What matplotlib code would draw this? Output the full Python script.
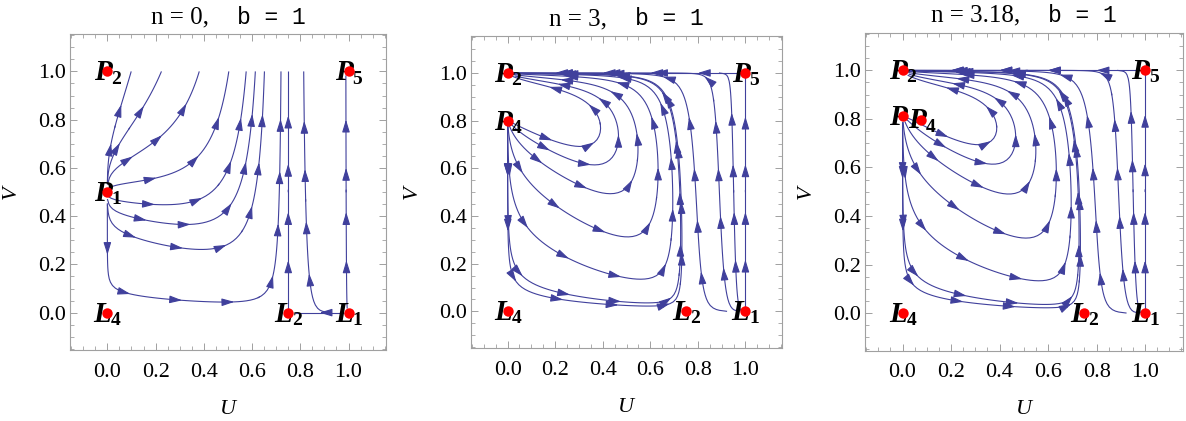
import numpy as np
import matplotlib
matplotlib.use('Agg')
import matplotlib.pyplot as plt
from matplotlib.ticker import MultipleLocator
from matplotlib.patches import FancyArrowPatch

plt.rcParams['font.family'] = ['Liberation Serif', 'DejaVu Serif']

# ---------------- data ----------------
n_values = [0, 3, 3.18]
b_values = [1, 1, 1]

# coefficients of the planar vector field drawn in each panel
a_coef = [2.5, 2.5, 2.5]      # speed of U
v_star = [0.5, 0.8, 0.81]     # equilibrium on the V axis (P1 / P4 / P3)
k_coef = [0.0, 0.14, 0.148]   # coupling V -> U
c_coef = [4.0, 3.8, 3.8]      # coupling U -> V
u_l2 = 0.75                   # position of L2

# fixed points (label letter, label index, U, V) per panel
pt_letter = [["P", "P", "P", "L", "L", "L"],
             ["P", "P", "P", "L", "L", "L"],
             ["P", "P", "P", "P", "L", "L", "L"]]
pt_index = [["2", "5", "1", "4", "2", "1"],
            ["2", "5", "4", "4", "2", "1"],
            ["2", "5", "", "4", "4", "2", "1"]]
pt_u = [[0.0, 1.0, 0.0, 0.0, 0.75, 1.0],
        [0.0, 1.0, 0.0, 0.0, 0.75, 1.0],
        [0.0, 1.0, 0.0, 0.078, 0.0, 0.75, 1.0]]
pt_v = [[1.0, 1.0, 0.5, 0.0, 0.0, 0.0],
        [1.0, 1.0, 0.8, 0.0, 0.0, 0.0],
        [1.0, 1.0, 0.81, 0.797, 0.0, 0.0, 0.0]]

# seed points of the streamlines per panel
seed_u = [[0.096, 0.22, 0.378, 0.502, 0.613, 0.33, 0.38, 0.26, 0.75, 0.826, 0.99, 0.88],
          [0.5, 1.0, 0.951, 0.35, 0.35, 0.35, 0.35, 0.35, 0.35, 0.727, 0.797, 0.9],
          [0.5, 1.0, 0.951, 0.35, 0.35, 0.35, 0.35, 0.35, 0.35, 0.727, 0.797, 0.9]]
seed_v = [[0.99, 0.99, 0.99, 0.99, 0.99, 0.455, 0.262, 0.055, 0.5, 0.345, 0.5, 0.0],
          [1.0, 0.5, 0.483, 0.70, 0.615, 0.51, 0.357, 0.182, 0.035, 0.4, 0.4, 0.3],
          [1.0, 0.5, 0.483, 0.70, 0.615, 0.51, 0.357, 0.182, 0.035, 0.4, 0.4, 0.3]]

# ---------------- style ----------------
LINE_C = '#40409c'
SPINE_C = '#a0a0a0'
ARROW_STYLE = '-|>,head_length=0.75,head_width=0.23'
ARROW_GAP_PX = 58.0
TITLE_GAP_PX = 28.0
axes_pos = [[0.0590, 0.1686, 0.2664, 0.7506],
            [0.3969, 0.1727, 0.2627, 0.7418],
            [0.7293, 0.1670, 0.2679, 0.7553]]

fig = plt.figure(figsize=(11.86, 4.21), dpi=100)

grid = np.linspace(0.0, 1.0, 201)
UU, VV = np.meshgrid(grid, grid)


def add_arrows(ax, segs):
    if len(segs) == 0:
        return
    pts = np.vstack([segs[0][:1]] + [s[1:] for s in segs])
    d = np.hypot(*np.diff(pts, axis=0).T)
    s = np.concatenate([[0], np.cumsum(d)])
    total = s[-1]
    n_arr = max(1, int(round(total * 241 / ARROW_GAP_PX)))
    for j in range(1, n_arr + 1):
        target = total * j / (n_arr + 1)
        idx = int(np.searchsorted(s, target))
        idx = min(max(idx, 1), len(pts) - 1)
        tail = pts[idx - 1]
        tip = pts[idx]
        if np.allclose(tail, tip):
            continue
        ap = FancyArrowPatch(tuple(tail), tuple(tip), arrowstyle=ARROW_STYLE,
                             mutation_scale=10, color=LINE_C, lw=0.8,
                             shrinkA=0, shrinkB=0, zorder=3)
        ax.add_patch(ap)


title_parts = []
for i in range(3):
    ax = fig.add_axes(axes_pos[i])
    a, vs, k, c = a_coef[i], v_star[i], k_coef[i], c_coef[i]
    FU = a * UU * (1 - UU) * ((u_l2 - UU) * (1 - VV) - k * VV ** 2)
    FV = VV * (1 - VV) * (VV - vs + c * UU ** 3)
    for pu, pv in zip(pt_u[i], pt_v[i]):
        m = np.hypot(UU - pu, VV - pv) < 0.012
        FU[m] = np.nan
        FV[m] = np.nan

    for su, sv in zip(seed_u[i], seed_v[i]):
        sp = ax.streamplot(grid, grid, FU, FV, start_points=[[su, sv]],
                           broken_streamlines=False, integration_direction='both',
                           density=2, color=LINE_C, linewidth=0.8,
                           arrowstyle='-', arrowsize=0.01)
        add_arrows(ax, sp.lines.get_segments())

    for let, idx, pu, pv in zip(pt_letter[i], pt_index[i], pt_u[i], pt_v[i]):
        ax.annotate(let, (pu, pv), xytext=(-3.5, -1.0),
                    textcoords='offset points', ha='center', va='center',
                    fontsize=21, fontweight='bold', style='italic', zorder=5)
        if idx:
            ax.annotate(idx, (pu, pv), xytext=(6.3, -5.5),
                        textcoords='offset points', ha='center', va='center',
                        fontsize=14, fontweight='bold', zorder=5)
    ax.plot(pt_u[i], pt_v[i], 'o', color='#ff0000', ms=7.5, mec='none',
            zorder=6, clip_on=False)

    ax.set_xlim(-0.155, 1.155)
    ax.set_ylim(-0.155, 1.155)
    ax.set_xticks(np.arange(0, 1.01, 0.2))
    ax.set_yticks(np.arange(0, 1.01, 0.2))
    ax.set_xticklabels(['%.1f' % t for t in np.arange(0, 1.01, 0.2)])
    ax.set_yticklabels(['%.1f' % t for t in np.arange(0, 1.01, 0.2)])
    ax.xaxis.set_minor_locator(MultipleLocator(0.05))
    ax.yaxis.set_minor_locator(MultipleLocator(0.05))
    ax.tick_params(which='both', direction='in', top=True, right=True,
                   color=SPINE_C, labelsize=16)
    ax.tick_params(which='major', length=5, width=0.7)
    ax.tick_params(which='minor', length=3, width=0.6)
    ax.tick_params(axis='x', pad=9)
    ax.tick_params(axis='y', pad=3)
    for sp_ in ax.spines.values():
        sp_.set_color(SPINE_C)
        sp_.set_linewidth(0.8)
    ax.set_xlabel('U', style='italic', fontsize=16, labelpad=13)
    ax.set_ylabel('V', style='italic', fontsize=16, labelpad=12)

    t1 = ax.annotate('n = %g,' % n_values[i], (0.5, 1.0), xycoords='axes fraction',
                     xytext=(0, 17), textcoords='offset pixels',
                     ha='left', va='center', fontsize=18)
    t2 = ax.annotate('b = %d' % b_values[i], (0.5, 1.0), xycoords='axes fraction',
                     xytext=(0, 17), textcoords='offset pixels',
                     ha='left', va='center', fontsize=16.5,
                     family='Liberation Mono')
    title_parts.append((t1, t2))

fig.canvas.draw()
renderer = fig.canvas.get_renderer()
for t1, t2 in title_parts:
    w1 = t1.get_window_extent(renderer).width
    w2 = t2.get_window_extent(renderer).width
    left = -(w1 + TITLE_GAP_PX + w2) / 2.0
    t1.set_position((left, 17))
    t2.set_position((left + w1 + TITLE_GAP_PX, 17))

fig.savefig('out.png', dpi=100)
